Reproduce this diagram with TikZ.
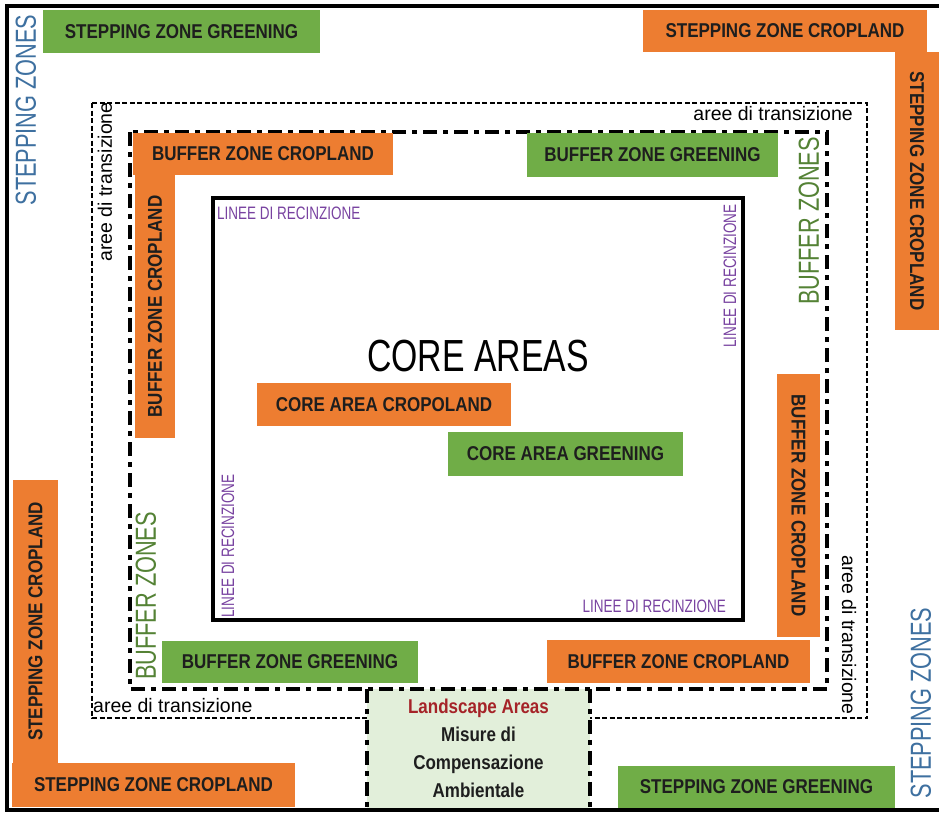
\documentclass[tikz,border=0pt]{standalone}
\usepackage{fontspec}
\setmainfont{Liberation Sans}
\newfontfamily\cndbold[FakeStretch=0.85]{Liberation Sans Bold}
\newfontfamily\cndthin[FakeStretch=0.75]{Liberation Sans}
\usetikzlibrary{positioning}
\definecolor{cropor}{RGB}{237,125,49}
\definecolor{greenfill}{RGB}{112,173,71}
\definecolor{landfill}{RGB}{226,239,218}
\definecolor{stepblue}{RGB}{62,112,160}
\definecolor{buffgreen}{RGB}{84,130,53}
\definecolor{fencepurple}{RGB}{120,66,160}
\definecolor{landred}{RGB}{165,35,40}
\definecolor{labeltxt}{RGB}{30,30,30}
\begin{document}
\begin{tikzpicture}[x=1pt,y=-1pt,
  zone/.style={inner sep=0pt,text=labeltxt,font=\cndbold\fontsize{20}{24}\selectfont},
  crop/.style={zone,fill=cropor},
  grn/.style={zone,fill=greenfill},
  bigtag/.style={inner sep=0pt,font=\cndthin\fontsize{29}{32}\selectfont},
  trans/.style={inner sep=0pt,font=\fontsize{19.5}{22}\selectfont},
  fence/.style={inner sep=0pt,text=fencepurple,font=\cndthin\fontsize{18}{20}\selectfont},
  fineline/.style={line width=2.5pt,dash pattern=on 5pt off 2.5pt},
  bufline/.style={line width=4pt,dash pattern=on 14pt off 6pt on 5pt off 6pt}]
\useasboundingbox (0,0) rectangle (939,812);
\draw[fineline] (92,103) rectangle (867,718);
\node[fill=landfill,inner sep=0pt,minimum width=223pt,minimum height=119pt,align=center,
  text=labeltxt,font=\cndbold\fontsize{20}{28}\selectfont] (land) at (478.5,748.5)
 {{\color{landred}Landscape Areas}\\Misure di\\Compensazione\\Ambientale};
\draw[bufline] (130,132) rectangle (827,689);
\draw[bufline] (land.north west) -- (land.south west);
\draw[bufline] (land.north east) -- (land.south east);
\draw[line width=4pt] (213,198) rectangle (743,620);
\node[grn,minimum width=277pt,minimum height=43pt] (szg1) at (181.5,31.5) {STEPPING ZONE GREENING};
\node[crop,minimum width=284pt,minimum height=42pt] (szc1) at (785,31) {STEPPING ZONE CROPLAND};
\node[crop,rotate=-90,minimum width=278pt,minimum height=44pt] (szc2) at (917,191) {STEPPING ZONE CROPLAND};
\node[crop,rotate=90,minimum width=283pt,minimum height=45pt] (szc3) at (35.5,621.5) {STEPPING ZONE CROPLAND};
\node[crop,minimum width=283pt,minimum height=44pt] (szc4) at (153.5,785) {STEPPING ZONE CROPLAND};
\node[grn,minimum width=277pt,minimum height=42pt] (szg2) at (756.5,787) {STEPPING ZONE GREENING};
\node[crop,minimum width=260pt,minimum height=42pt] (bzc1) at (263,154) {BUFFER ZONE CROPLAND};
\node[crop,rotate=90,minimum width=263pt,minimum height=40pt] (bzc2) at (155,306.5) {BUFFER ZONE CROPLAND};
\node[grn,minimum width=251pt,minimum height=44pt] (bzg1) at (652.5,155) {BUFFER ZONE GREENING};
\node[crop,rotate=-90,minimum width=263pt,minimum height=43pt] (bzc3) at (798.5,505.5) {BUFFER ZONE CROPLAND};
\node[crop,minimum width=263pt,minimum height=43pt] (bzc4) at (678.5,661.5) {BUFFER ZONE CROPLAND};
\node[grn,minimum width=256pt,minimum height=42pt] (bzg2) at (290,662) {BUFFER ZONE GREENING};
\node[crop,minimum width=254pt,minimum height=43pt] (cac) at (384,404.5) {CORE AREA CROPOLAND};
\node[grn,minimum width=235pt,minimum height=44pt] (cag) at (565.5,454) {CORE AREA GREENING};
\node[inner sep=0pt,font=\cndthin\fontsize{45}{48}\selectfont] (core) at (478,356) {CORE AREAS};
\node[bigtag,text=stepblue,rotate=90] (stz1) at (26,110) {STEPPING ZONES};
\node[bigtag,text=stepblue,rotate=90] (stz2) at (921,703) {STEPPING ZONES};
\node[bigtag,text=buffgreen,rotate=90] (bfz1) at (809,221) {BUFFER ZONES};
\node[bigtag,text=buffgreen,rotate=90] (bfz2) at (146,596) {BUFFER ZONES};
\node[trans,anchor=east] (tr1) at (853,114) {aree di transizione};
\node[trans,rotate=90] (tr2) at (105,182) {aree di transizione};
\node[trans,rotate=-90] (tr3) at (849,635) {aree di transizione};
\node[trans,anchor=west] (tr4) at (93,706) {aree di transizione};
\node[fence,anchor=west] (fn1) at (217,213) {LINEE DI RECINZIONE};
\node[fence,rotate=90] (fn2) at (730,276) {LINEE DI RECINZIONE};
\node[fence,rotate=90] (fn3) at (228,546) {LINEE DI RECINZIONE};
\node[fence,anchor=east] (fn4) at (726,606) {LINEE DI RECINZIONE};
\draw[line width=4pt] (939,6) -- (7,6) -- (7,810) -- (939,810);
\end{tikzpicture}
\end{document}
